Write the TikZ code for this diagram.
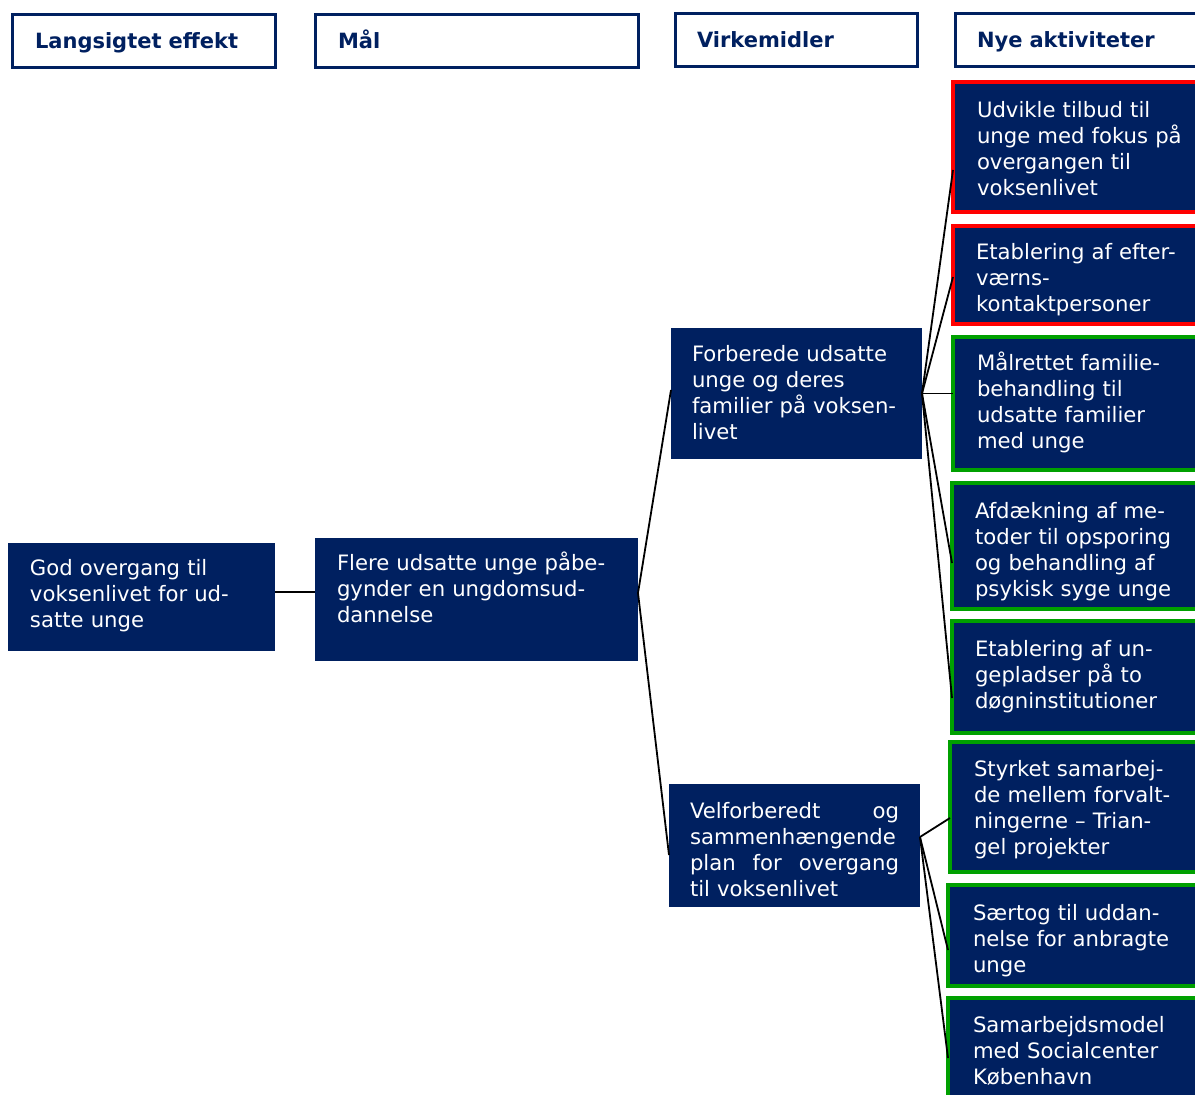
\documentclass[tikz,border=0pt]{standalone}
\usepackage{fontspec}
\setmainfont{DejaVu Sans}
\usetikzlibrary{positioning}
\definecolor{navy}{RGB}{0,32,96}
\definecolor{redline}{RGB}{255,0,0}
\definecolor{greenline}{RGB}{0,160,0}
\newcommand{\boxfont}{\fontsize{10.6}{13}\selectfont}
\tikzstyle{header}=[rectangle, draw=navy, line width=1.5pt, fill=white, text=navy,
        font=\fontsize{10.5}{13}\selectfont\bfseries, align=left, anchor=north west, inner ysep=0pt, outer sep=0pt,
        text height=17pt, text depth=9.5pt]
\tikzstyle{abstract}=[rectangle, fill=navy, text=white, font=\boxfont, align=left,
        anchor=north west, inner ysep=0pt, outer sep=0pt]
\tikzstyle{redbox}=[abstract, draw=redline, line width=2pt, inner xsep=12pt, text width=110pt]
\tikzstyle{greenbox}=[abstract, draw=greenline, line width=2pt, inner xsep=12pt, text width=110pt]
\tikzstyle{link}=[-, line width=0.9pt]

\begin{document}
\begin{tikzpicture}[x=0.5pt, y=-0.5pt]
    \useasboundingbox (0,0) rectangle (1195,1095);

    % column headers
    \node (Effekt) [header, inner xsep=11.5pt, text width=108.5pt] at (12,15) {Langsigtet effekt};
    \node (Maal) [header, inner xsep=11.5pt, text width=138.5pt] at (315,15) {Mål};
    \node (Virkemidler) [header, inner xsep=11pt, text width=99pt] at (675,14) {Virkemidler};
    \node (Aktiviteter) [header, inner xsep=11pt, text width=108pt] at (955,14) {Nye aktiviteter};

    \node (Overgang) [abstract, inner xsep=11pt, text width=111.5pt, text height=16.5pt, text depth=37.5pt] at (8,543)
        {God overgang til\\voksenlivet for ud-\\satte unge};

    \node (Uddannelse) [abstract, inner xsep=11pt, text width=139.5pt, text height=16.25pt, text depth=45.25pt] at (315,538)
        {Flere udsatte unge påbe-\\gynder en ungdomsud-\\dannelse};

    \node (Forberede) [abstract, inner xsep=10.5pt, text width=104.5pt, text height=16.75pt, text depth=48.75pt] at (671,328)
        {Forberede udsatte\\unge og deres\\familier på voksen-\\livet};

    \node (Plan) [abstract, inner xsep=10.5pt, text width=104.5pt, text height=17.25pt, text depth=44.25pt] at (669,784)
        {Velforberedt\hfill og\\sammenhængende\\plan\hfill for\hfill overgang\\til voksenlivet};

    % new activities
    \node (Tilbud) [redbox, text height=17.75pt, text depth=47.25pt] at (953,82)
        {Udvikle tilbud til\\unge med fokus på\\overgangen til\\voksenlivet};
    \node (Kontakt) [redbox, inner xsep=11.5pt, text height=17pt, text depth=32pt] at (953,226)
        {Etablering af efter-\\værns-\\kontaktpersoner};
    \node (Familie) [greenbox, text height=16.75pt, text depth=49.75pt] at (953,337)
        {Målrettet familie-\\behandling til\\udsatte familier\\med unge};
    \node (Psykisk) [greenbox, inner xsep=11.5pt, text height=18pt, text depth=45pt] at (952,483)
        {Afdækning af me-\\toder til opsporing\\og behandling af\\psykisk syge unge};
    \node (Ungepladser) [greenbox, inner xsep=11.5pt, text height=17.75pt, text depth=38.25pt] at (952,621)
        {Etablering af un-\\gepladser på to\\døgninstitutioner};
    \node (Triangel) [greenbox, text height=17.25pt, text depth=47.75pt] at (950,742)
        {Styrket samarbej-\\de mellem forvalt-\\ningerne – Trian-\\gel projekter};
    \node (Saertog) [greenbox, inner xsep=12.5pt, text height=17.75pt, text depth=32.75pt] at (948,885)
        {Særtog til uddan-\\nelse for anbragte\\unge};
    \node (Socialcenter) [greenbox, inner xsep=12.5pt, text height=17.25pt, text depth=37.75pt] at (948,998)
        {Samarbejdsmodel\\med Socialcenter\\København};

    \draw[link] ([yshift=2.5pt]Overgang.east) -- ([yshift=2.5pt]Overgang.east -| Uddannelse.west);
    \draw[link] ([yshift=3.25pt]Uddannelse.east) -- ([yshift=1.75pt]Forberede.west);
    \draw[link] ([yshift=3.25pt]Uddannelse.east) -- ([yshift=-4.75pt]Plan.west);

    \draw[link] (Forberede.east) -- ([yshift=-11.5pt]Tilbud.west);
    \draw[link] (Forberede.east) -- ([yshift=-1pt]Kontakt.west);
    \draw[link] (Forberede.east) -- (Forberede.east -| Familie.west);
    \draw[link] (Forberede.east) -- ([yshift=-8.5pt]Psykisk.west);
    \draw[link] (Forberede.east) -- ([yshift=-10.5pt]Ungepladser.west);

    \draw[link] ([yshift=4.25pt]Plan.east) -- ([yshift=-5.5pt]Triangel.west);
    \draw[link] ([yshift=4.25pt]Plan.east) -- ([yshift=-7.25pt]Saertog.west);
    \draw[link] ([yshift=4.25pt]Plan.east) -- ([yshift=-2.5pt]Socialcenter.west);
\end{tikzpicture}
\end{document}
